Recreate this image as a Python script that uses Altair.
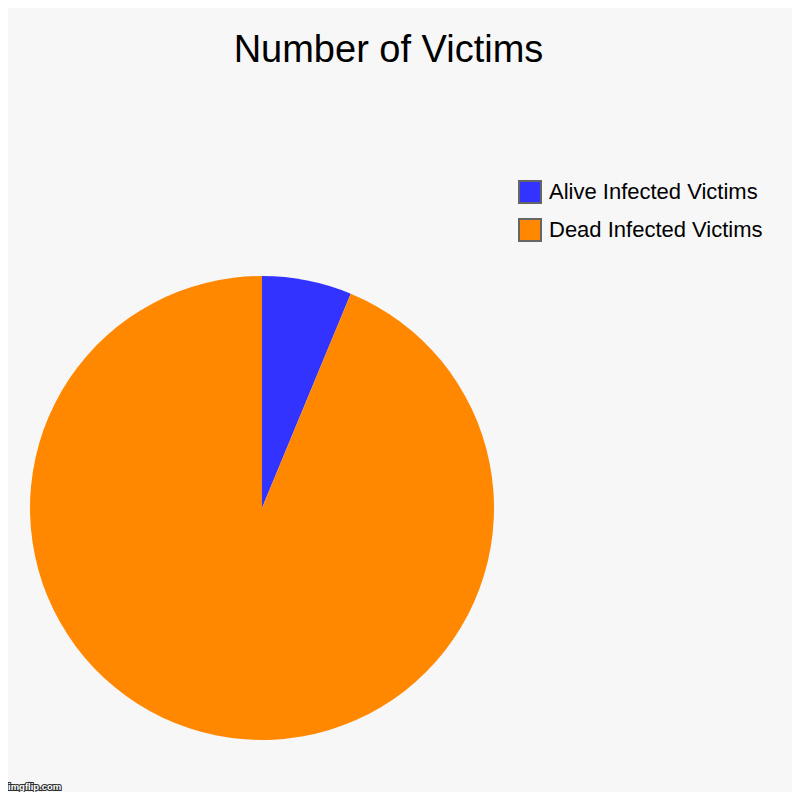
import altair as alt
import pandas as pd

categories = ["Alive Infected Victims", "Dead Infected Victims"]
values = [1, 15]
colors = ["#3333ff", "#ff8800"]
title_text = "Number of Victims"
watermark = "imgflip.com"

df = pd.DataFrame({"category": categories, "value": values, "order": list(range(len(values)))})

pie = alt.Chart(df).mark_arc(radius=232).encode(
    theta=alt.Theta("value:Q", stack=True),
    order=alt.Order("order:Q"),
    color=alt.Color(
        "category:N",
        scale=alt.Scale(domain=categories, range=colors),
        legend=alt.Legend(
            title=None,
            orient="none",
            legendX=510,
            legendY=172,
            symbolType="square",
            symbolSize=484,
            symbolStrokeColor="#666666",
            symbolStrokeWidth=2,
            symbolOpacity=1,
            labelFontSize=22,
            labelFont="Liberation Sans",
            labelColor="#000000",
            labelLimit=400,
            rowPadding=8,
            labelOffset=7,
            padding=0,
        ),
    ),
    x=alt.value(254),
    y=alt.value(500),
)

title = alt.Chart(pd.DataFrame({"t": [title_text]})).mark_text(
    font="Liberation Sans", fontSize=38, color="#000000", baseline="alphabetic", align="center"
).encode(text="t:N", x=alt.value(380.5), y=alt.value(54))

wm_df = pd.DataFrame({"t": [watermark]})
wm_stroke = alt.Chart(wm_df).mark_text(
    font="Liberation Sans", fontSize=9.5, fontWeight="bold", stroke="#333333", strokeWidth=2.2,
    fill="#333333", align="left", baseline="alphabetic"
).encode(text="t:N", x=alt.value(0), y=alt.value(782))
wm_fill = alt.Chart(wm_df).mark_text(
    font="Liberation Sans", fontSize=9.5, fontWeight="bold", color="#ffffff",
    align="left", baseline="alphabetic"
).encode(text="t:N", x=alt.value(0), y=alt.value(782))

chart = alt.layer(pie, title, wm_stroke, wm_fill).properties(
    width=784, height=784, background="#f7f7f7", padding=0,
    autosize=alt.AutoSizeParams(type="none"),
).configure_view(stroke=None)

chart.save("out.html", embed_options={"renderer": "svg", "actions": False})
